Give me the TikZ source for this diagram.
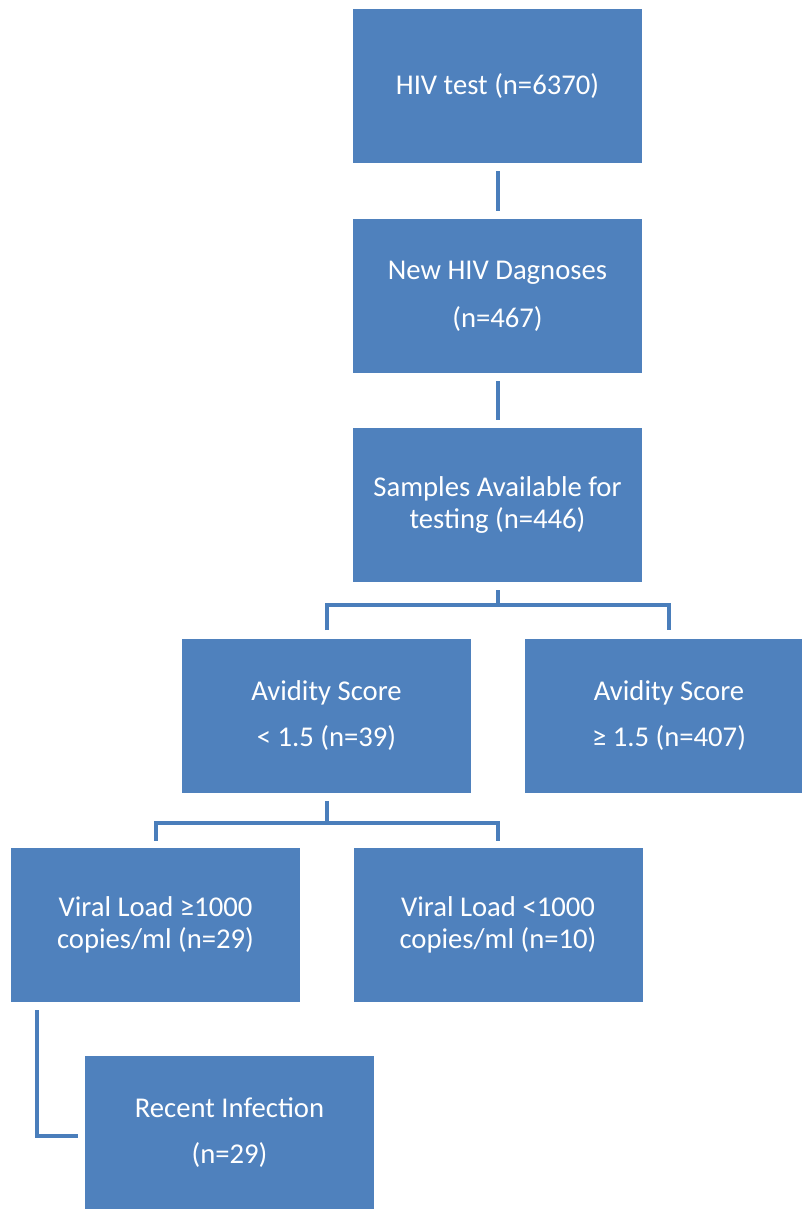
\documentclass[tikz,border=0pt]{standalone}
\usepackage{fontspec}
\setmainfont{Carlito}
\usetikzlibrary{shapes,arrows,fit,calc,positioning}
\definecolor{boxblue}{HTML}{4F81BD}
\definecolor{lineblue}{HTML}{4A7EBB}

\begin{document}
\begin{tikzpicture}[x=0.75pt,y=-0.75pt,
box/.style={fill=boxblue,text=white,align=center,minimum width=216.75pt,minimum height=115.5pt,inner sep=0pt,font=\fontsize{21.5}{24}\selectfont},
link/.style={draw=lineblue,line width=3pt}]

\useasboundingbox (0,0) rectangle (802,1209);
\clip (0,0) rectangle (802,1209);

% main column
\node[box] (n1) at (497.5,86) {HIV test (n=6370)};
\node[box] (n2) at (497.5,296) {New HIV Dagnoses\\[12pt](n=467)};
\node[box] (n3) at (497.5,505) {Samples Available for\\testing (n=446)};

% avidity split
\node[box] (n4) at (326.5,715.5) {Avidity Score\\[11pt]< 1.5 (n=39)};
\node[box,right=39.75pt of n4] (n5) {Avidity Score\\[11pt]≥ 1.5 (n=407)};

% viral load split
\node[box] (n6) at (155.5,925) {Viral Load ≥1000\\copies/ml (n=29)};
\node[box,right=39.75pt of n6] (n7) {Viral Load <1000\\copies/ml (n=10)};

\node[box] (n8) at (229.5,1132.5) {Recent Infection\\[11pt](n=29)};

\draw[link] ($(n1.south)+(0,8)$) -- ($(n2.north)+(0,-8)$);
\draw[link] ($(n2.south)+(0,8)$) -- ($(n3.north)+(0,-8)$);

\draw[link] ($(n3.south)+(0,8)$) -- ++(0,15);
\draw[link] ($(n4.north)+(0,-8)$) -- ++(0,-25) -| ($(n5.north)+(0,-8)$);

\draw[link] ($(n4.south)+(0,8)$) -- ++(0,22);
\draw[link] ($(n6.north)+(0,-7)$) -- ++(0,-18) -| ($(n7.north)+(0,-7)$);

\draw[link] ($(n6.south west)+(26,8)$) |- ($(n8.west)+(-7,3)$);

\end{tikzpicture}
\end{document}
